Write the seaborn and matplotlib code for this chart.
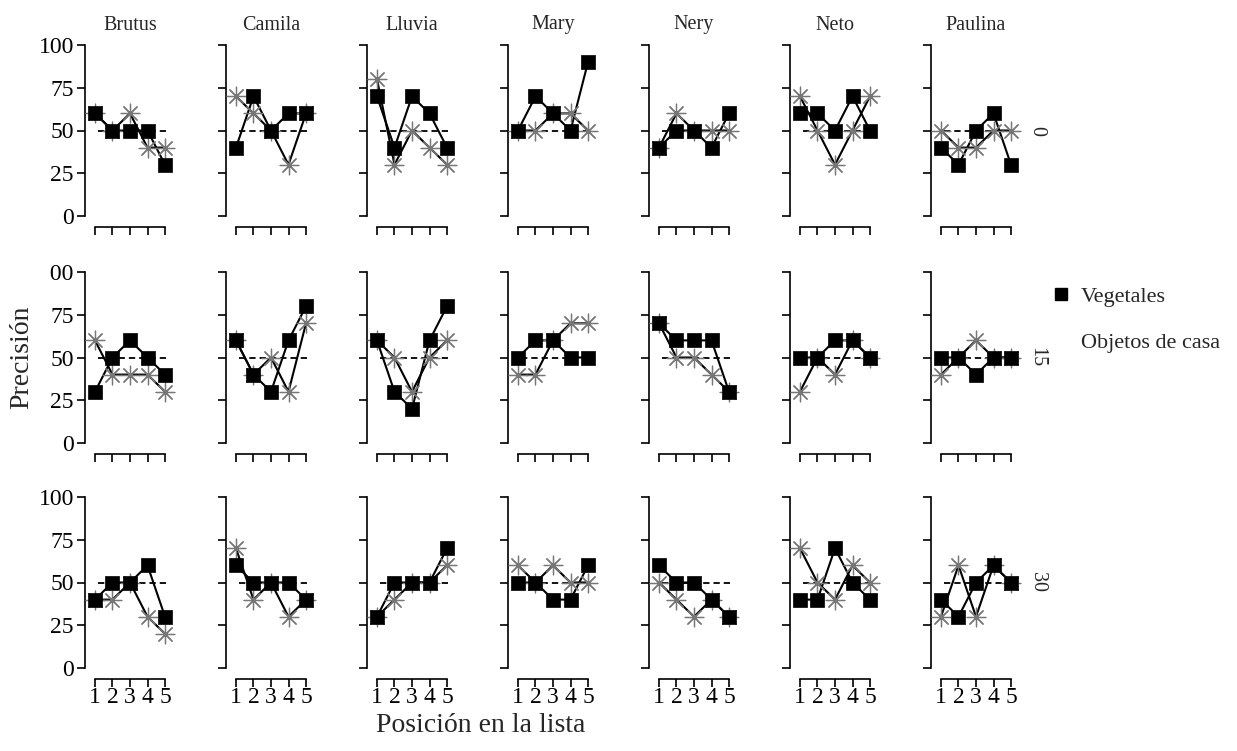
import numpy as np
import pandas as pd
import matplotlib
matplotlib.use("Agg")
import matplotlib.pyplot as plt
import seaborn as sns
from matplotlib.lines import Line2D
from matplotlib.transforms import Bbox, TransformedBbox

# ---------------- data ----------------
participants = ["Brutus", "Camila", "Lluvia", "Mary", "Nery", "Neto", "Paulina"]
conditions = ["0", "15", "30"]
positions = [1, 2, 3, 4, 5]
categories = ["Vegetales", "Objetos de casa"]

veg_0 = [[60, 50, 50, 50, 30], [40, 70, 50, 60, 60], [70, 40, 70, 60, 40],
         [50, 70, 60, 50, 90], [40, 50, 50, 40, 60], [60, 60, 50, 70, 50],
         [40, 30, 50, 60, 30]]
obj_0 = [[60, 50, 60, 40, 40], [70, 60, 50, 30, 60], [80, 30, 50, 40, 30],
         [50, 50, 60, 60, 50], [40, 60, 50, 50, 50], [70, 50, 30, 50, 70],
         [50, 40, 40, 50, 50]]
veg_15 = [[30, 50, 60, 50, 40], [60, 40, 30, 60, 80], [60, 30, 20, 60, 80],
          [50, 60, 60, 50, 50], [70, 60, 60, 60, 30], [50, 50, 60, 60, 50],
          [50, 50, 40, 50, 50]]
obj_15 = [[60, 40, 40, 40, 30], [60, 40, 50, 30, 70], [60, 50, 30, 50, 60],
          [40, 40, 60, 70, 70], [70, 50, 50, 40, 30], [30, 50, 40, 60, 50],
          [40, 50, 60, 50, 50]]
veg_30 = [[40, 50, 50, 60, 30], [60, 50, 50, 50, 40], [30, 50, 50, 50, 70],
          [50, 50, 40, 40, 60], [60, 50, 50, 40, 30], [40, 40, 70, 50, 40],
          [40, 30, 50, 60, 50]]
obj_30 = [[40, 40, 50, 30, 20], [70, 40, 50, 30, 40], [30, 40, 50, 50, 60],
          [60, 50, 60, 50, 50], [50, 40, 30, 40, 30], [70, 50, 40, 60, 50],
          [30, 60, 30, 60, 50]]

chance = 50
yticks = [0, 25, 50, 75, 100]

series = {("0", "Vegetales"): veg_0, ("0", "Objetos de casa"): obj_0,
          ("15", "Vegetales"): veg_15, ("15", "Objetos de casa"): obj_15,
          ("30", "Vegetales"): veg_30, ("30", "Objetos de casa"): obj_30}

rows = []
for (cond, cat), table in series.items():
    for name, vals in zip(participants, table):
        for p, v in zip(positions, vals):
            rows.append({"cond": cond, "part": name, "cat": cat, "pos": p, "prec": v})
df = pd.DataFrame(rows)

# ---------------- style ----------------
sns.set_theme(style="ticks")
plt.rcParams["font.family"] = ["Liberation Serif", "DejaVu Serif"]
plt.rcParams["axes.linewidth"] = 1.2

W, H = 1237, 751
fig = plt.figure(figsize=(W / 100, H / 100), dpi=100)
fig.patch.set_facecolor("white")

col_left = [85 + 141 * i for i in range(7)]
row_top = [45, 272, 497]
ax_w, ax_h = 90, 171

grey = "#777777"
tick_fs = 17

for r, cond in enumerate(conditions):
    for c, name in enumerate(participants):
        ax = fig.add_axes([col_left[c] / W, 1 - (row_top[r] + ax_h) / H, ax_w / W, ax_h / H])
        ax.set_facecolor("white")
        sub = df[(df.cond == cond) & (df.part == name)]
        ax.hlines(chance, 1.2, 5.05, colors="black", linestyles=(0, (3.5, 2.2)),
                  linewidth=1.3, zorder=1)
        sns.lineplot(data=sub, x="pos", y="prec", hue="cat", hue_order=categories,
                     palette={"Vegetales": "black", "Objetos de casa": "black"},
                     estimator=None, legend=False, linewidth=1.5, ax=ax, zorder=2)
        sns.scatterplot(data=sub[sub.cat == "Objetos de casa"], x="pos", y="prec",
                        marker=(8, 2, 0), s=180, color=grey, linewidth=0.9,
                        legend=False, ax=ax, zorder=3, clip_on=False)
        sns.scatterplot(data=sub[sub.cat == "Vegetales"], x="pos", y="prec",
                        marker="s", s=105, color="black", edgecolor="black",
                        linewidth=0.5, legend=False, ax=ax, zorder=4, clip_on=False)

        ax.set_xlim(0.43, 5.57)
        ax.set_ylim(0, 100)
        ax.set_xticks(positions)
        ax.set_yticks(yticks)
        ax.set_xticklabels([str(p) for p in positions])
        ax.set_yticklabels([str(t) for t in yticks])
        for s in ["top", "right"]:
            ax.spines[s].set_visible(False)
        ax.spines["left"].set_bounds(0, 100)
        ax.spines["bottom"].set_bounds(1, 5)
        ax.spines["bottom"].set_position(("outward", 8))
        ax.spines["left"].set_color("black")
        ax.spines["bottom"].set_color("black")
        ax.tick_params(axis="both", direction="out", length=6, width=1.2,
                       colors="black", labelsize=tick_fs)
        ax.tick_params(axis="y", pad=2)
        ax.tick_params(axis="x", pad=0)
        if c > 0:
            ax.tick_params(axis="y", labelleft=False)
        if r < 2:
            ax.tick_params(axis="x", labelbottom=False)
        ax.set_xlabel("")
        ax.set_ylabel("")
        if c == 0 and r == 1:
            clip = TransformedBbox(Bbox([[50 / W, 0], [1, 1]]), fig.transFigure)
            for lab in ax.get_yticklabels():
                lab.set_clip_box(clip)
                lab.set_clip_on(True)

        if r == 0:
            fig.text((col_left[c] + ax_w / 2) / W, 1 - 25 / H, name,
                     ha="center", va="center", fontsize=14.5)
    fig.text(1037 / W, 1 - (row_top[r] + ax_h / 2) / H, cond, rotation=-90,
             ha="center", va="center", fontsize=14.5)

fig.text(22 / W, 1 - 357 / H, "Precisión", rotation=90, ha="center", va="center",
         fontsize=20)
fig.text(481 / W, 1 - 725 / H, "Posición en la lista", ha="center", va="center",
         fontsize=20)

handles = [Line2D([], [], marker="s", color="black", linestyle="", markersize=9),
           Line2D([], [], marker="", linestyle="")]
fig.legend(handles=handles, labels=categories, loc="upper left",
           bbox_to_anchor=(1052 / W, 1 - 286 / H), frameon=False, fontsize=16,
           handlelength=0.8, handletextpad=0.5, labelspacing=1.15,
           borderaxespad=0, borderpad=0)

fig.savefig("out.png", dpi=100, facecolor="white")
